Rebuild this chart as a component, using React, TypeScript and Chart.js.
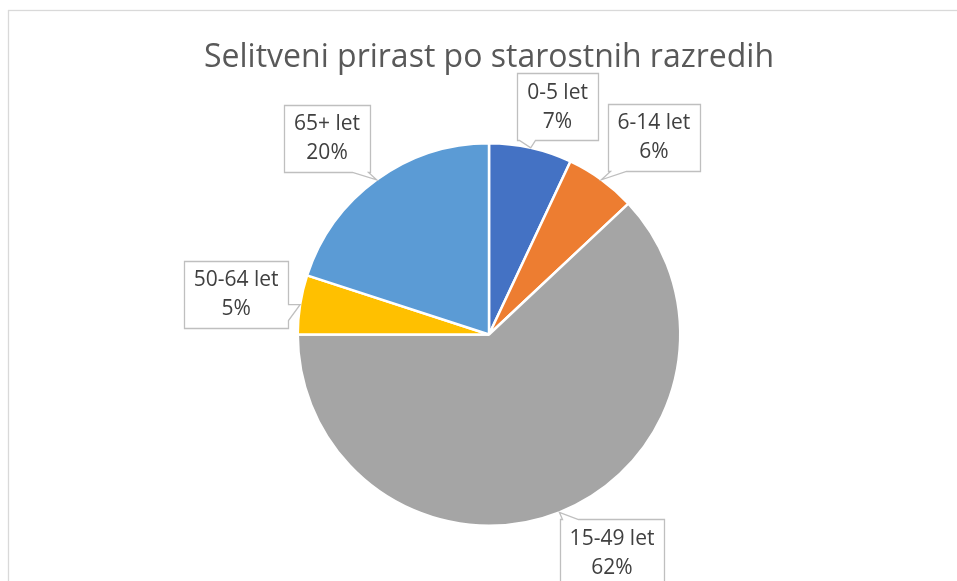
import React, { useEffect, useRef } from "react";
import { Chart, registerables } from "chart.js";

Chart.register(...registerables);

const chartTitle = "Selitveni prirast po starostnih razredih";
const categories = ["0-5 let", "6-14 let", "15-49 let", "50-64 let", "65+ let"];
const shares = [7, 6, 62, 5, 20];
const sliceColors = ["#4472C4", "#ED7D31", "#A5A5A5", "#FFC000", "#5B9BD5"];

const calloutPlugin = {
  id: "excelCallouts",
  beforeDraw(chart: any) {
    const ctx = chart.ctx;
    ctx.save();
    ctx.fillStyle = "#ffffff";
    ctx.fillRect(0, 0, chart.width, chart.height);
    ctx.strokeStyle = "#D9D9D9";
    ctx.lineWidth = 1.3;
    ctx.strokeRect(8.5, 10.5, chart.width + 20, chart.height + 20);
    ctx.restore();
  },
  afterDatasetsDraw(chart: any, _args: any, opts: any) {
    const ctx = chart.ctx;
    const meta = chart.getDatasetMeta(0);
    const total = shares.reduce((a, b) => a + b, 0);
    ctx.save();
    const first = meta.data[0];
    ctx.fillStyle = "#595959";
    ctx.font = "32px 'Open Sans'";
    ctx.textAlign = "center";
    ctx.textBaseline = "alphabetic";
    ctx.fillText(chartTitle, first.x, 67);

    ctx.font = "21px 'Open Sans'";
    meta.data.forEach((arc: any, i: number) => {
      const p = arc.getProps(["x", "y", "startAngle", "endAngle", "outerRadius"], true);
      const mid = (p.startAngle + p.endAngle) / 2;
      const tipX = p.x + Math.cos(mid) * p.outerRadius;
      const tipY = p.y + Math.sin(mid) * p.outerRadius;
      const dist = opts.distance;
      const nudge = opts.nudges[i];
      const cx = p.x + Math.cos(mid) * dist + nudge[0];
      const cy = p.y + Math.sin(mid) * dist + nudge[1];
      const line1 = categories[i];
      const line2 = Math.round((shares[i] / total) * 100) + "%";
      const w = Math.max(ctx.measureText(line1).width, ctx.measureText(line2).width) + 20;
      const h = 67;
      const L = Math.round(cx - w / 2) + 0.5;
      const R = Math.round(cx + w / 2) + 0.5;
      const T = Math.round(cy - h / 2) + 0.5;
      const B = Math.round(cy + h / 2) + 0.5;
      const ox = Math.max(L - tipX, tipX - R, 0);
      const oy = Math.max(T - tipY, tipY - B, 0);
      const bw = 16;
      const clamp = (v: number, a: number, b: number) => Math.max(a, Math.min(b, v));
      const pts: number[][] = [];
      pts.push([L, T]);
      if (oy >= ox && tipY < T) {
        const b0 = clamp(tipX, L + 2, R - 2 - bw);
        pts.push([b0, T], [tipX, tipY], [b0 + bw, T]);
      }
      pts.push([R, T]);
      if (ox > oy && tipX > R) {
        const b0 = clamp(tipY, T + 2, B - 2 - bw);
        pts.push([R, b0], [tipX, tipY], [R, b0 + bw]);
      }
      pts.push([R, B]);
      if (oy >= ox && tipY > B) {
        const b0 = clamp(tipX, L + 2 + bw, R - 2);
        pts.push([b0, B], [tipX, tipY], [b0 - bw, B]);
      }
      pts.push([L, B]);
      if (ox > oy && tipX < L) {
        const b0 = clamp(tipY, T + 2 + bw, B - 2);
        pts.push([L, b0], [tipX, tipY], [L, b0 - bw]);
      }
      ctx.beginPath();
      pts.forEach((pt, k) => (k === 0 ? ctx.moveTo(pt[0], pt[1]) : ctx.lineTo(pt[0], pt[1])));
      ctx.closePath();
      ctx.fillStyle = "#ffffff";
      ctx.fill();
      ctx.strokeStyle = "#BFBFBF";
      ctx.lineWidth = 1.3;
      ctx.stroke();
      ctx.fillStyle = "#404040";
      ctx.textAlign = "center";
      ctx.textBaseline = "middle";
      ctx.fillText(line1, cx, cy - 14);
      ctx.fillText(line2, cx, cy + 15);
    });
    ctx.restore();
  },
};

export default function App() {
  const ref = useRef<HTMLCanvasElement | null>(null);
  useEffect(() => {
    if (!ref.current) return;
    const chart = new Chart(ref.current, {
      type: "pie",
      data: {
        labels: categories,
        datasets: [
          {
            data: shares,
            backgroundColor: sliceColors,
            borderColor: "#ffffff",
            borderWidth: 2.5,
          },
        ],
      },
      options: {
        responsive: false,
        animation: false,
        layout: { padding: { top: 142, bottom: 54, left: 100, right: 79 } },
        plugins: {
          legend: { display: false },
          tooltip: { enabled: false },
          title: { display: false },
          excelCallouts: {
            distance: 250,
            nudges: [
              [14, 16],
              [18, 5],
              [31, -14],
              [-6, -1],
              [-15, 6],
            ],
          },
        } as any,
      },
      plugins: [calloutPlugin],
    });
    return () => chart.destroy();
  }, []);
  return (
    <canvas
      ref={ref}
      width={957}
      height={581}
      style={{ position: "fixed", left: 0, top: 0, width: 957, height: 581 }}
    />
  );
}
